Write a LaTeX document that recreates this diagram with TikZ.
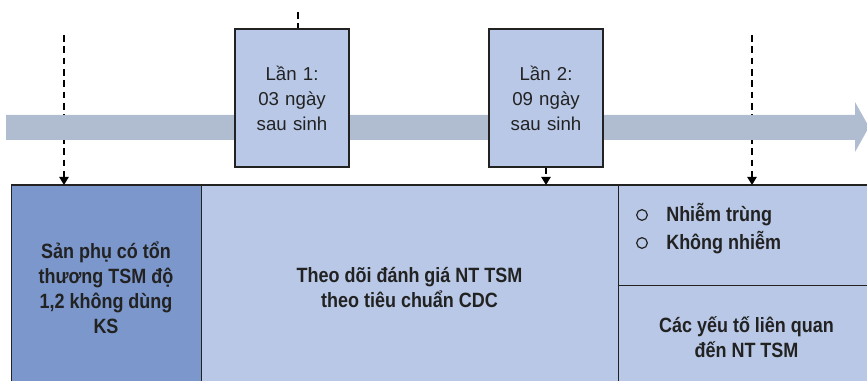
\documentclass[tikz,border=0pt]{standalone}
\usepackage{fontspec}
\setmainfont{Liberation Sans}
\newfontfamily\condbf[FakeStretch=0.87]{Liberation Sans Bold}
\usetikzlibrary{arrows.meta}
\definecolor{bandgray}{RGB}{176,188,207}
\definecolor{boxlight}{RGB}{184,200,230}
\definecolor{boxdark}{RGB}{123,151,204}
\definecolor{inkgray}{RGB}{34,34,34}
\begin{document}
\begin{tikzpicture}[
    x=0.75pt, y=-0.75pt,
    every node/.style={text=inkgray},
    visit/.style={draw=inkgray, line width=0.9pt, fill=boxlight,
                  minimum width=85.5pt, minimum height=103.5pt,
                  text width=80pt, align=center, inner sep=0pt,
                  font=\fontsize{14}{18.75}\selectfont},
    panel/.style={draw=inkgray, line width=0.7pt, fill=boxlight,
                  inner sep=0pt, outer sep=0pt, align=center,
                  font=\condbf\fontsize{15.5}{18.75}\selectfont},
    tick/.style={dash pattern=on 5pt off 3.5pt, line width=1pt, black},
    tickarrow/.style={tick, -{Triangle[width=7pt,length=6pt]}},
    ring/.style={circle, draw=inkgray, line width=0.9pt, minimum size=8pt,
                 inner sep=0pt},
    item/.style={anchor=west, inner sep=0pt, font=\condbf\fontsize{15.5}{18.75}\selectfont},
]
\clip (0,0) rectangle (867,381);

% ── Mốc thời gian (vẽ trước, nằm phía sau) ──
\coordinate (t0) at (64,35);
\coordinate (t1) at (298,12);
\coordinate (t3) at (752,35);

% ── Hàng dưới: các khối ──
\node[panel, fill=boxdark, minimum width=142.5pt, minimum height=153.75pt]
    (source) at (106,287.5)
    {\begin{minipage}{124pt}\centering Sản phụ có tổn\\thương TSM độ\\1,2 không dùng\\KS\end{minipage}};
\node[panel, minimum width=312.75pt, minimum height=153.75pt]
    (follow) at (409.5,287.5)
    {Theo dõi đánh giá NT TSM\\theo tiêu chuẩn CDC};
\node[panel, minimum width=192.75pt, minimum height=75pt]
    (outcome) at (746.5,235) {};
\node[panel, minimum width=192.75pt, minimum height=78.75pt]
    (factor) at (746.5,337.5)
    {Các yếu tố liên quan\\đến NT TSM};
\draw[inkgray, line width=1.6pt] (source.north west) -- (outcome.north east);

% ── Đường đứt nét (phía sau dải thời gian) ──
\draw[tickarrow] (t0) -- (t0 |- source.north);
\draw[tickarrow] (t3) -- (t3 |- outcome.north);

% ── Dải thời gian ──
\fill[bandgray] (6,115) -- (855,115) -- (855,102) -- (869,127) -- (855,152)
    -- (855,140) -- (6,140) -- cycle;

% ── Hai lần đánh giá ──
\node[visit] (visit1) at (292,98) {Lần 1:\\03 ngày\\sau sinh};
\node[visit] (visit2) at (546,98) {Lần 2:\\09 ngày\\sau sinh};
\draw[tick] (t1) -- (t1 |- visit1.north);
\draw[tickarrow] (visit2.south) -- (visit2.south |- follow.north);

% ── Kết quả ──
\node[ring] (ring1) at (642,215) {};
\node[item] (infect) at (666,215) {Nhiễm trùng};
\node[ring] (ring2) at (642,243) {};
\node[item] (clean) at (666,243) {Không nhiễm};
\end{tikzpicture}
\end{document}
